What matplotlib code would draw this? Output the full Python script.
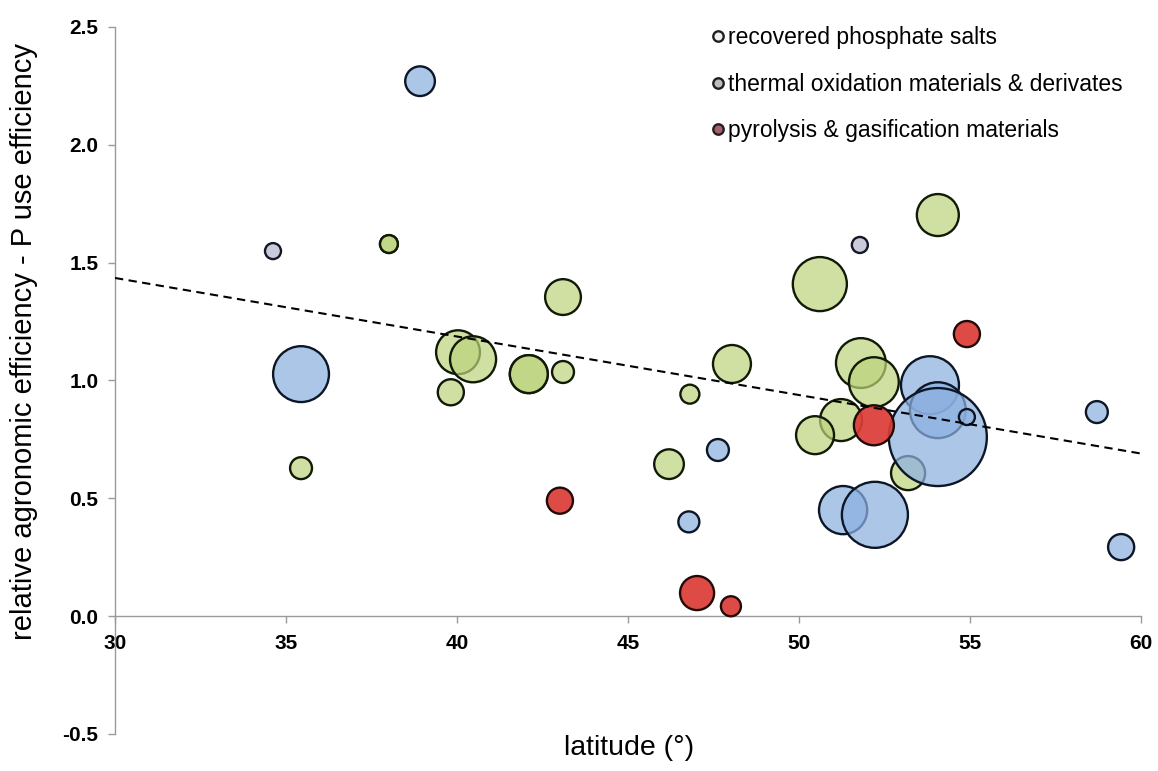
import numpy as np
import matplotlib
matplotlib.use("Agg")
import matplotlib.pyplot as plt
from matplotlib.lines import Line2D
from matplotlib.colors import to_rgba

# latitude, relative agronomic efficiency, bubble weight
salts_lat = [38.92, 35.44, 47.63, 46.78, 53.83, 54.06, 54.06, 54.91, 51.29, 52.22, 58.71, 59.42]
salts_rae = [2.27, 1.027, 0.705, 0.40, 0.98, 0.874, 0.76, 0.845, 0.45, 0.43, 0.866, 0.293]
salts_w = [2.2, 7.8, 1.2, 1.1, 8.4, 7.8, 24.0, 0.64, 5.8, 10.9, 1.2, 1.7]

grey_lat = [34.62, 51.78]
grey_rae = [1.549, 1.575]
grey_w = [0.64, 0.64]

ash_lat = [38.01, 38.01, 43.10, 40.03, 40.47, 39.82, 42.10, 42.10, 43.10, 35.44, 48.04,
           46.81, 46.20, 50.61, 54.06, 51.81, 52.19, 51.23, 50.47, 53.19]
ash_rae = [1.579, 1.579, 1.354, 1.12, 1.09, 0.95, 1.027, 1.027, 1.036, 0.628, 1.07,
           0.942, 0.645, 1.409, 1.702, 1.074, 0.993, 0.832, 0.768, 0.607]
ash_w = [0.8, 0.8, 3.2, 4.8, 5.3, 1.7, 3.6, 3.6, 1.2, 1.2, 3.6,
         0.9, 2.2, 7.3, 4.4, 6.2, 6.2, 4.4, 3.6, 2.9]

char_lat = [54.91, 52.19, 43.01, 47.02, 48.01]
char_rae = [1.197, 0.81, 0.49, 0.098, 0.042]
char_w = [1.7, 4.0, 1.7, 2.9, 1.0]

trend_lat = [30, 60]
trend_rae = [1.435, 0.69]

x_ticks = [30, 35, 40, 45, 50, 55, 60]
y_ticks = [-0.5, 0.0, 0.5, 1.0, 1.5, 2.0, 2.5]

legend_labels = ["recovered phosphate salts",
                 "thermal oxidation materials & derivates",
                 "pyrolysis & gasification materials"]


def bubble_s(w):
    # weight -> radius in px (dpi 100) -> marker area in pt^2
    r_px = 10 * np.sqrt(np.asarray(w))
    return (2 * r_px * 0.72) ** 2


fig = plt.figure(figsize=(11.58, 7.71), dpi=100)
ax = fig.add_axes([0.0993, 0.048, 0.886, 0.917])

# spine position first: moving it resets the ticks
ax.spines["top"].set_visible(False)
ax.spines["right"].set_visible(False)
ax.spines["bottom"].set_position(("data", 0))
for sp in ("left", "bottom"):
    ax.spines[sp].set_color("#9a9a9a")
    ax.spines[sp].set_linewidth(1.0)

ax.scatter(ash_lat, ash_rae, s=bubble_s(ash_w), facecolor=to_rgba("#bcd47c", 0.7),
           edgecolor="#111a06", linewidth=1.7, zorder=2)
ax.scatter(grey_lat, grey_rae, s=bubble_s(grey_w), facecolor="#c9cbdb",
           edgecolor="#141824", linewidth=1.7, zorder=3)
ax.scatter(salts_lat, salts_rae, s=bubble_s(salts_w), facecolor=to_rgba("#8cb0e0", 0.72),
           edgecolor="#0d1626", linewidth=1.7, zorder=3)
ax.scatter(char_lat, char_rae, s=bubble_s(char_w), facecolor=to_rgba("#dc3c36", 0.92),
           edgecolor="#220a08", linewidth=1.7, zorder=4)

ax.plot(trend_lat, trend_rae, color="black", linestyle=(0, (4, 2.6)), linewidth=1.5, zorder=5)

ax.set_xlim(30, 60)
ax.set_ylim(-0.5, 2.5)
ax.set_xticks(x_ticks)
ax.set_yticks(y_ticks)
ax.set_yticklabels([f"{v:.1f}" for v in y_ticks],
                   fontfamily="Liberation Sans", fontweight="bold", fontsize=15)
ax.set_xticklabels([str(v) for v in x_ticks],
                   fontfamily="Liberation Sans", fontweight="bold", fontsize=15)

ax.tick_params(axis="both", colors="#9a9a9a", length=5, width=1.0, labelcolor="black")
ax.tick_params(axis="x", pad=8)
ax.tick_params(axis="y", pad=7)

fig.text(0.543, 1 - 748 / 771, "latitude (°)", ha="center", va="center",
         fontfamily="Liberation Sans", fontsize=20.5)
fig.text(0.021, 1 - 342 / 771, "relative agronomic efficiency - P use efficiency",
         ha="center", va="center", rotation=90, fontfamily="Liberation Sans", fontsize=21)

handles = [
    Line2D([], [], linestyle="none", marker="o", markersize=7.5, markerfacecolor="#f0f0f0",
           markeredgecolor="#202020", markeredgewidth=1.7),
    Line2D([], [], linestyle="none", marker="o", markersize=7.5, markerfacecolor="#bdbdbd",
           markeredgecolor="#202020", markeredgewidth=1.7),
    Line2D([], [], linestyle="none", marker="o", markersize=7.5, markerfacecolor="#a8606c",
           markeredgecolor="#202020", markeredgewidth=1.7),
]
ax.legend(handles, legend_labels, loc="upper left", bbox_to_anchor=(700 / 1158, 1 - 15 / 771),
          bbox_transform=fig.transFigure, frameon=False, handlelength=0.6,
          handletextpad=0.12, labelspacing=1.02, borderpad=0,
          prop={"family": "Liberation Sans", "size": 16.5})

fig.savefig("out.png", dpi=100)
